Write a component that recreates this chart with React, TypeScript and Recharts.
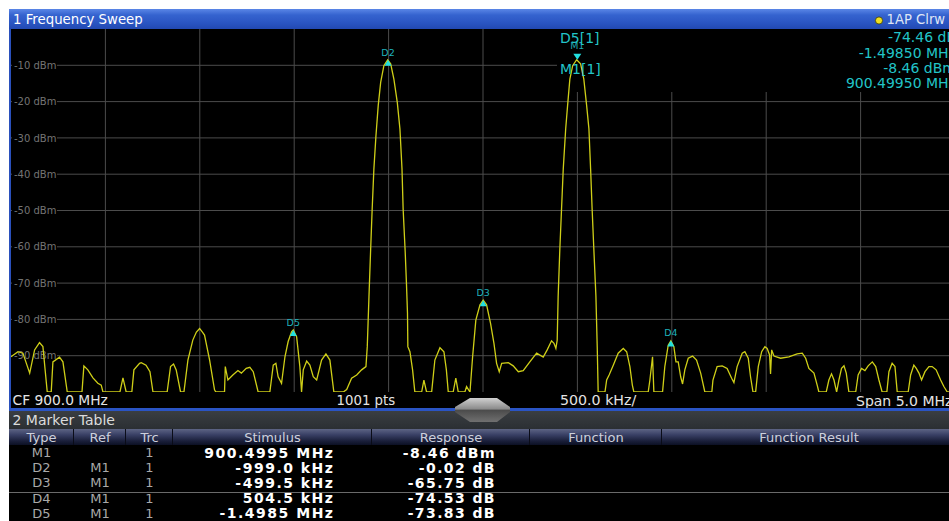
import React from "react";
import { LineChart, Line, XAxis, YAxis, ReferenceLine, ReferenceDot } from "recharts";

// ---------- data ----------
const traceFreqMHz = [
  897.5, 897.537, 897.563, 897.599, 897.625, 897.651, 897.669, 897.692, 897.713, 897.722,
  897.757, 897.775, 897.798, 897.876, 897.886, 897.907, 897.934, 897.96, 897.978, 897.987,
  898.077, 898.093, 898.11, 898.14, 898.151, 898.181, 898.19, 898.215, 898.236, 898.252,
  898.327, 898.345, 898.361, 898.375, 898.398, 898.416, 898.437, 898.463, 898.482, 898.499,
  898.514, 898.525, 898.552, 898.578, 898.585, 898.631, 898.635, 898.649, 898.675, 898.702,
  898.72, 898.746, 898.765, 898.783, 898.809, 898.871, 898.889, 898.903, 898.915, 898.933,
  898.951, 898.968, 898.986, 898.995, 899.013, 899.03, 899.039, 899.048, 899.066, 899.083,
  899.101, 899.119, 899.145, 899.168, 899.189, 899.21, 899.26, 899.278, 899.304, 899.331,
  899.357, 899.38, 899.387, 899.396, 899.405, 899.413, 899.422, 899.433, 899.445, 899.458,
  899.475, 899.495, 899.511, 899.528, 899.546, 899.56, 899.571, 899.577, 899.588, 899.595,
  899.6, 899.602, 899.613, 899.627, 899.639, 899.675, 899.687, 899.701, 899.728, 899.745,
  899.772, 899.793, 899.806, 899.816, 899.842, 899.856, 899.869, 899.904, 899.913, 899.931,
  899.945, 899.962, 899.984, 900.001, 900.019, 900.04, 900.058, 900.072, 900.086, 900.099,
  900.134, 900.16, 900.187, 900.213, 900.248, 900.284, 900.319, 900.34, 900.363, 900.376,
  900.386, 900.393, 900.398, 900.407, 900.416, 900.425, 900.438, 900.448, 900.46, 900.475,
  900.496, 900.517, 900.534, 900.549, 900.561, 900.57, 900.578, 900.587, 900.598, 900.605,
  900.61, 900.646, 900.655, 900.668, 900.69, 900.716, 900.743, 900.761, 900.778, 900.791,
  900.799, 900.875, 900.884, 900.898, 900.905, 900.951, 900.963, 900.981, 900.995, 901.011,
  901.022, 901.034, 901.047, 901.057, 901.069, 901.087, 901.11, 901.131, 901.153, 901.175,
  901.212, 901.218, 901.24, 901.267, 901.293, 901.317, 901.329, 901.346, 901.373, 901.387,
  901.405, 901.417, 901.43, 901.444, 901.458, 901.476, 901.493, 901.505, 901.518, 901.523,
  901.529, 901.541, 901.576, 901.62, 901.664, 901.691, 901.709, 901.726, 901.753, 901.77,
  901.779, 901.818, 901.832, 901.846, 901.859, 901.873, 901.885, 901.899, 901.912, 901.924,
  901.938, 901.974, 901.987, 902.005, 902.023, 902.04, 902.062, 902.08, 902.097, 902.114,
  902.139, 902.15, 902.167, 902.182, 902.194, 902.252, 902.265, 902.282, 902.295, 902.309,
  902.323, 902.341, 902.362, 902.379, 902.4, 902.424, 902.441, 902.459, 902.5,
];
const traceLevelDbm = [
  -90.3, -88.9, -89.3, -94.8, -88.4, -86.4, -87.5, -100, -100, -91.7,
  -90.4, -91.7, -100, -100, -92.8, -93.9, -96.1, -97.6, -98.1, -100,
  -100, -96.1, -100, -100, -93.9, -92.1, -91.9, -92.6, -94.4, -100,
  -100, -93.0, -92.3, -93.9, -100, -100, -91.2, -85.7, -83.5, -82.5,
  -83.5, -84.3, -91.2, -99.4, -100, -100, -93.0, -96.7, -95.3, -94.1,
  -94.8, -93.5, -93.2, -94.4, -100, -100, -92.6, -92.1, -95.8, -97.6,
  -90.3, -86.1, -83.4, -82.9, -84.8, -93.0, -100, -93.9, -91.5, -92.6,
  -95.8, -96.7, -91.2, -89.5, -91.2, -100, -100, -99.3, -96.2, -95.3,
  -93.9, -93.0, -87.5, -73.8, -60.6, -49.6, -38.6, -29.4, -21.1, -14.7,
  -10.1, -8.5, -9.6, -13.8, -20.2, -27.5, -38.6, -49.6, -61.5, -70.7,
  -78.2, -87.5, -88.9, -93.9, -100, -100, -96.7, -100, -100, -91.2,
  -87.8, -88.9, -93.9, -100, -100, -96.2, -100, -100, -98.5, -100,
  -90.3, -80.2, -76.0, -74.7, -76.0, -81.1, -86.6, -92.1, -94.4, -92.1,
  -91.9, -92.8, -94.4, -94.1, -91.7, -89.3, -90.4, -88.4, -85.9, -86.6,
  -88.0, -85.7, -73.8, -60.6, -49.6, -38.6, -27.5, -21.1, -13.8, -10.1,
  -8.46, -9.6, -13.8, -21.1, -27.5, -38.6, -49.6, -60.6, -73.5, -87.5,
  -100, -100, -96.7, -95.3, -92.6, -89.3, -88.0, -88.9, -93.0, -98.1,
  -100, -100, -96.7, -90.3, -100, -100, -93.0, -87.1, -85.9, -87.5,
  -91.7, -91.7, -95.8, -97.8, -93.9, -90.7, -90.1, -91.2, -94.8, -100,
  -100, -96.7, -93.0, -92.8, -93.5, -96.2, -97.4, -93.0, -89.3, -88.9,
  -90.7, -95.8, -100, -100, -93.0, -88.9, -87.5, -88.0, -89.8, -95.0,
  -88.4, -90.1, -90.7, -90.3, -89.5, -89.3, -90.7, -93.5, -94.8, -98.1,
  -100, -100, -96.7, -95.0, -96.7, -100, -96.7, -93.5, -92.8, -94.8,
  -100, -100, -95.3, -93.5, -94.1, -92.8, -91.7, -93.0, -96.7, -100,
  -100, -94.4, -92.1, -93.0, -100, -100, -95.3, -92.6, -93.5, -94.8,
  -96.7, -94.4, -93.0, -93.0, -93.9, -96.7, -98.5, -100, -100,
];

const freqDomainMHz = [897.5, 902.5];
const levelDomainDbm = [-100, 0];
const gridFreqMHz = [898.0, 898.5, 899.0, 899.5, 900.0, 900.5, 901.0, 901.5, 902.0];
const gridLevelDbm = [-10, -20, -30, -40, -50, -60, -70, -80, -90];
const yTickLabels = ["-10 dBm", "-20 dBm", "-30 dBm", "-40 dBm", "-50 dBm", "-60 dBm", "-70 dBm", "-80 dBm", "-90 dBm"];

const markerNames = ["M1", "D2", "D3", "D4", "D5"];
const markerFreqMHz = [900.4995, 899.497, 900.001, 900.995, 898.995];
const markerLevelDbm = [-8.46, -8.5, -74.7, -85.8, -82.9];

const readoutLabels = ["D5[1]", "M1[1]"];
const readoutValues = ["-74.46 dB", "-1.49850 MHz", "-8.46 dBm", "900.49950 MHz"];

const statusTexts = ["CF 900.0 MHz", "1001 pts", "500.0 kHz/", "Span 5.0 MHz"];

const tableColumns = ["Type", "Ref", "Trc", "Stimulus", "Response", "Function", "Function Result"];
const tableType = ["M1", "D2", "D3", "D4", "D5"];
const tableRef = ["", "M1", "M1", "M1", "M1"];
const tableTrc = ["1", "1", "1", "1", "1"];
const tableStimulus = ["900.4995 MHz", "-999.0 kHz", "-499.5 kHz", "504.5 kHz", "-1.4985 MHz"];
const tableResponse = ["-8.46 dBm", "-0.02 dB", "-65.75 dB", "-74.53 dB", "-73.83 dB"];

// ---------- layout ----------
const W = 949;
const H = 521;
const PL = 11;
const PT = 29;
const PW = 944;
const PH = 363;
const FONT = '"DejaVu Sans", Verdana, sans-serif';
const colEdges = [9, 74, 126, 173, 372, 530, 662, 956];

const traceData = traceFreqMHz.map((f, i) => ({ f, p: traceLevelDbm[i] }));

type TxtProps = {
  left?: number;
  right?: number;
  center?: number;
  cy: number;
  size?: number;
  color?: string;
  weight?: number;
  ls?: number;
  children: React.ReactNode;
};

const Txt = ({ left, right, center, cy, size = 14, color = "#e2e2e2", weight = 400, ls = 0, children }: TxtProps) => {
  const lh = size + 4;
  const style: React.CSSProperties = {
    position: "absolute",
    top: cy - lh / 2,
    height: lh,
    lineHeight: lh + "px",
    fontSize: size,
    fontFamily: FONT,
    color,
    fontWeight: weight,
    letterSpacing: ls,
    whiteSpace: "nowrap",
  };
  if (left !== undefined) style.left = left;
  if (right !== undefined) {
    style.right = W - right - ls;
    style.textAlign = "right";
  }
  if (center !== undefined) {
    style.left = center - 150;
    style.width = 300;
    style.textAlign = "center";
  }
  return <div style={style}>{children}</div>;
};

const axes = (
  <>
    <XAxis type="number" dataKey="f" domain={freqDomainMHz} hide allowDataOverflow />
    <YAxis type="number" domain={levelDomainDbm} hide allowDataOverflow />
  </>
);

const makeYLabel = (text: string) => (p: any) => (
  <g>
    <rect x={p.cx + 1} y={p.cy - 6} width={45} height={12} fill="#000" />
    <text x={p.cx + 3} y={p.cy + 3.6} fill="#747474" fontSize={10} fontFamily={FONT}>
      {text}
    </text>
  </g>
);

const makeMarker = (name: string) => (p: any) => {
  const cx = p.cx;
  const cy = p.cy;
  const isRef = name.startsWith("M");
  if (isRef) {
    return (
      <g>
        <polygon points={`${cx - 4},${cy - 6} ${cx + 4},${cy - 6} ${cx},${cy}`} fill="#22e0e0" />
        <text x={cx} y={cy - 14} textAnchor="middle" dominantBaseline="central" fill="#22a8b0" fontSize={9.5} fontFamily={FONT}>
          {name}
        </text>
      </g>
    );
  }
  return (
    <g>
      <polygon points={`${cx},${cy} ${cx - 3.5},${cy + 6} ${cx + 3.5},${cy + 6}`} fill="#22e0e0" />
      <text x={cx} y={cy - 7.5} textAnchor="middle" dominantBaseline="central" fill="#1fb0bc" fontSize={9.5} fontFamily={FONT}>
        {name}
      </text>
    </g>
  );
};

export default function App() {
  const rowCy = (i: number) => 452.7 + i * 15.1;
  return (
    <div style={{ position: "absolute", left: 0, top: 0, width: W, height: H, overflow: "hidden", background: "#fff" }}>
      {/* title bar */}
      <div
        style={{
          position: "absolute",
          left: 9,
          top: 9,
          width: W - 9,
          height: 20,
          background: "linear-gradient(#5a86e6 0%, #3563cf 30%, #2a55c2 70%, #2249b2 100%)",
        }}
      />
      <Txt left={13} cy={19.3} size={13.3} color="#ffffff">1 Frequency Sweep</Txt>
      <svg style={{ position: "absolute", left: 873, top: 14 }} width={12} height={12}>
        <circle cx={6} cy={6.5} r={3.6} fill="#f0e020" stroke="#404000" strokeWidth={0.8} />
      </svg>
      <Txt left={886.5} cy={19.3} size={13.2} color="#dfe6f5">1AP Clrw</Txt>

      {/* plot frame */}
      <div style={{ position: "absolute", left: 9, top: PT, width: 2, height: 381, background: "#2a50bc" }} />
      <div style={{ position: "absolute", left: PL, top: PT, width: W - PL, height: 380, background: "#000" }} />

      {/* grid layer */}
      <div style={{ position: "absolute", left: PL, top: PT }}>
        <LineChart width={PW} height={PH} data={traceData} margin={{ top: 0, right: 0, bottom: 0, left: 0 }}>
          {axes}
          {gridLevelDbm.map((v) => (
            <ReferenceLine key={"h" + v} y={v} stroke="#4c4c4c" strokeWidth={1} />
          ))}
          {gridFreqMHz.map((f) => (
            <ReferenceLine key={"v" + f} x={f} stroke="#4c4c4c" strokeWidth={1} />
          ))}
          {gridLevelDbm.map((v, i) => (
            <ReferenceDot key={"l" + v} x={freqDomainMHz[0]} y={v} r={1} shape={makeYLabel(yTickLabels[i])} />
          ))}
        </LineChart>
      </div>

      {/* marker info box */}
      <div style={{ position: "absolute", left: 557, top: PT, width: W - 557, height: 63, background: "#000" }} />

      {/* trace layer */}
      <div style={{ position: "absolute", left: PL, top: PT }}>
        <LineChart width={PW} height={PH} data={traceData} margin={{ top: 0, right: 0, bottom: 0, left: 0 }}>
          {axes}
          <Line
            type="linear"
            dataKey="p"
            stroke="#cfcf18"
            strokeWidth={1.3}
            dot={false}
            activeDot={false}
            isAnimationActive={false}
          />
          {markerNames.map((n, i) => (
            <ReferenceDot key={n} x={markerFreqMHz[i]} y={markerLevelDbm[i]} r={1} shape={makeMarker(n)} />
          ))}
        </LineChart>
      </div>

      {/* readouts */}
      <Txt left={560} cy={37.5} size={14} color="#22c4c8">{readoutLabels[0]}</Txt>
      <Txt left={560} cy={69.2} size={14} color="#22c4c8">{readoutLabels[1]}</Txt>
      {readoutValues.map((t, i) => (
        <Txt key={t} right={956} cy={37.3 + i * 15.35} size={14} color="#22c4c8">{t}</Txt>
      ))}

      {/* status bar */}
      <Txt left={12.5} cy={400.5} size={13.8} color="#e4e4e4">{statusTexts[0]}</Txt>
      <Txt left={336.5} cy={400.5} size={13.3} color="#e4e4e4">{statusTexts[1]}</Txt>
      <Txt left={560} cy={400.5} size={14.2} color="#e4e4e4">{statusTexts[2]}</Txt>
      <Txt left={856} cy={400.5} size={14} color="#e4e4e4">{statusTexts[3]}</Txt>
      <div style={{ position: "absolute", left: 9, top: 408, width: W - 9, height: 2.5, background: "#2a54c4" }} />

      {/* marker table title band */}
      <div style={{ position: "absolute", left: 9, top: 410.5, width: W - 9, height: 18, background: "linear-gradient(#3a3e42, #2b2f33)" }} />
      <Txt left={12.5} cy={420} size={14} color="#dcdcdc">2 Marker Table</Txt>

      {/* table header */}
      {tableColumns.map((c, i) => (
        <div
          key={c}
          style={{
            position: "absolute",
            left: colEdges[i],
            top: 428.5,
            width: colEdges[i + 1] - colEdges[i] - 1,
            height: 16.5,
            background: "linear-gradient(#5d6484 0%, #3a4166 35%, #1a1f3a 75%, #0c1024 100%)",
            borderRight: "1px solid #0a0c18",
          }}
        />
      ))}
      {tableColumns.map((c, i) => (
        <Txt key={"t" + c} center={(colEdges[i] + colEdges[i + 1]) / 2} cy={437} size={13} color="#cdd0dc">
          {c}
        </Txt>
      ))}
      <div style={{ position: "absolute", left: 9, top: 445, width: W - 9, height: H - 445, background: "#000" }} />
      <div style={{ position: "absolute", left: 9, top: 492.2, width: W - 9, height: 1, background: "#6a6a6a" }} />

      {tableType.map((t, i) => (
        <React.Fragment key={t}>
          <Txt center={(colEdges[0] + colEdges[1]) / 2} cy={rowCy(i)} size={13} color="#a9a9a9">{t}</Txt>
          <Txt center={(colEdges[1] + colEdges[2]) / 2} cy={rowCy(i)} size={13} color="#a9a9a9">{tableRef[i]}</Txt>
          <Txt center={(colEdges[2] + colEdges[3]) / 2} cy={rowCy(i)} size={13} color="#a9a9a9">{tableTrc[i]}</Txt>
          <Txt right={333} cy={rowCy(i)} size={14} weight={700} ls={1.5} color="#ffffff">{tableStimulus[i]}</Txt>
          <Txt right={494.5} cy={rowCy(i)} size={14} weight={700} ls={1.4} color="#ffffff">{tableResponse[i]}</Txt>
        </React.Fragment>
      ))}

      {/* splitter handle */}
      <svg style={{ position: "absolute", left: 452, top: 395 }} width={62} height={30}>
        <defs>
          <linearGradient id="hg" x1="0" y1="0" x2="0" y2="1">
            <stop offset="0%" stopColor="#d0d0d0" />
            <stop offset="45%" stopColor="#8c8c8c" />
            <stop offset="52%" stopColor="#4c4c4c" />
            <stop offset="100%" stopColor="#707070" />
          </linearGradient>
        </defs>
        <polygon points="18,3 45,3 58,12 58,17 45,27 18,27 3,17 3,12" fill="url(#hg)" />
      </svg>
    </div>
  );
}
